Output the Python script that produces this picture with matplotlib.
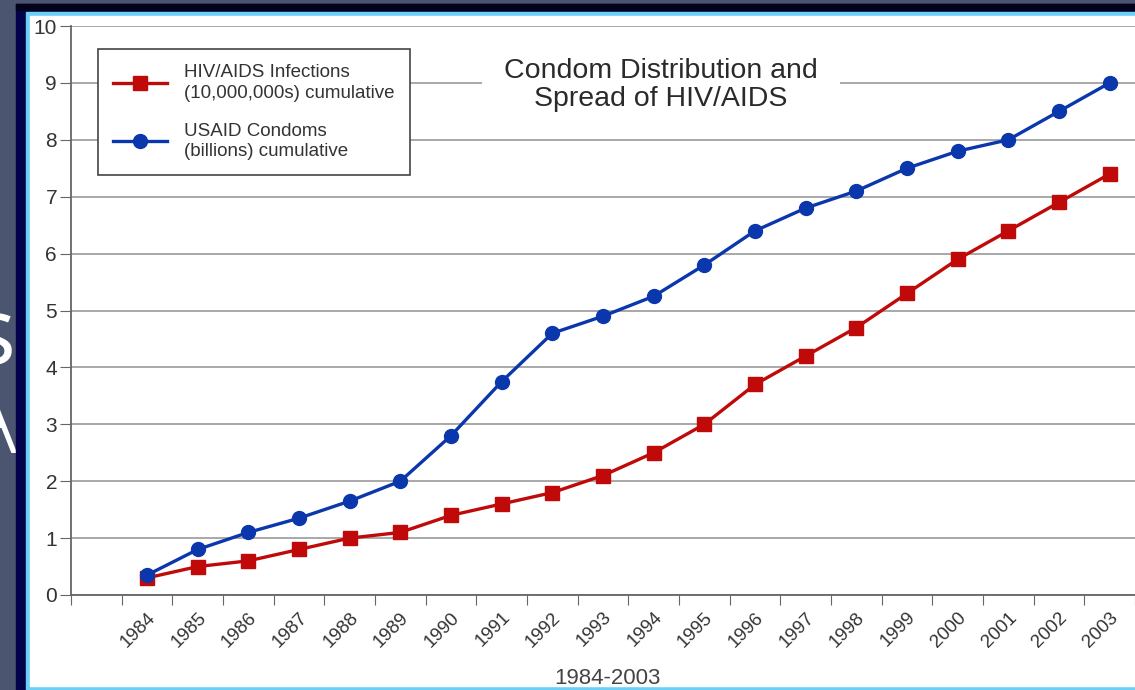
import matplotlib
matplotlib.use("Agg")
import matplotlib.pyplot as plt
from matplotlib.patches import Rectangle
from matplotlib.lines import Line2D

plt.rcParams['font.family'] = ['Liberation Sans', 'DejaVu Sans']

# data
years = ['1984', '1985', '1986', '1987', '1988', '1989', '1990', '1991', '1992', '1993',
         '1994', '1995', '1996', '1997', '1998', '1999', '2000', '2001', '2002', '2003']
hiv = [0.3, 0.5, 0.6, 0.8, 1.0, 1.1, 1.4, 1.6, 1.8, 2.1,
       2.5, 3.0, 3.7, 4.2, 4.7, 5.3, 5.9, 6.4, 6.9, 7.4]
condoms = [0.35, 0.8, 1.1, 1.35, 1.65, 2.0, 2.8, 3.75, 4.6, 4.9,
           5.25, 5.8, 6.4, 6.8, 7.1, 7.5, 7.8, 8.0, 8.5, 9.0]
hiv_label = 'HIV/AIDS Infections\n(10,000,000s) cumulative'
condom_label = 'USAID Condoms\n(billions) cumulative'
title = 'Condom Distribution and\nSpread of HIV/AIDS'
xlabel = '1984-2003'

W, H = 1135, 690
red = '#c00a0a'
blue = '#0b37ad'
txt = '#333333'


def px(x, y):
    # pixel (top-left origin) -> figure fraction
    return x / W, 1 - y / H


def main():
    fig = plt.figure(figsize=(W / 100, H / 100), dpi=100, facecolor='#4b5570')

    # slide frame
    def rect(x0, y0, x1, y1, color, z):
        fx, fy = px(x0, y1)
        fig.patches.append(Rectangle((fx, fy), (x1 - x0) / W, (y1 - y0) / H,
                                     transform=fig.transFigure, color=color,
                                     zorder=z))
    # slide text peeking out behind the chart
    fig.text(px(15, 0)[0], px(0, 364)[1], 's', color='white', fontsize=68,
             ha='right', va='baseline', zorder=0, family='Open Sans')
    fig.text(px(17, 0)[0], px(0, 453)[1], 'A', color='white', fontsize=72,
             ha='right', va='baseline', zorder=0, family='Open Sans',
             fontweight='light')
    rect(16, 4, W, H, '#02034a', 1)
    rect(16, 4, W, 10, '#02031a', 1)
    rect(26, 12, W, H, '#6ccff6', 2)
    rect(30, 16, W, 686, 'white', 3)

    ax = fig.add_axes([71 / W, (H - 595) / H, (W - 71) / W, (595 - 26) / H])
    ax.set_facecolor('none')
    ax.set_zorder(5)

    x = list(range(len(years)))
    ax.plot(x, hiv, color=red, lw=2.4, marker='s', ms=10, zorder=4)
    ax.plot(x, condoms, color=blue, lw=2.4, marker='o', ms=10, zorder=5)

    ax.set_xlim(-1.5, len(years) - 0.5)
    ax.set_ylim(0, 10)
    ax.set_yticks(range(11))
    ax.grid(axis='y', color='#999999', lw=1.2, zorder=0)
    ax.set_axisbelow(True)
    for s in ['top', 'right']:
        ax.spines[s].set_visible(False)
    for s in ['left', 'bottom']:
        ax.spines[s].set_color('#666666')
        ax.spines[s].set_linewidth(1.3)
    ax.tick_params(axis='y', length=8, color='#666666', labelsize=15,
                   labelcolor=txt, pad=2)

    # year labels between boundary ticks
    ax.set_xticks([i - 0.5 for i in range(-1, len(years) + 1)])
    ax.set_xticklabels([])
    ax.tick_params(axis='x', which='major', length=7, color='#666666')
    ax.set_xticks(x, minor=True)
    ax.set_xticklabels(years, minor=True, rotation=45, ha='right',
                       rotation_mode='anchor', fontsize=13.5, color=txt)
    ax.tick_params(axis='x', which='minor', length=0, pad=10)

    fig.text(px(607, 0)[0], px(0, 678)[1], xlabel, ha='center', va='center',
             fontsize=16, color='#444444', zorder=6)

    fig.text(px(661, 0)[0], px(0, 85)[1], title, ha='center', va='center',
             fontsize=20.5, color='#2a2a2a', linespacing=1.12, zorder=10,
             bbox=dict(facecolor='white', edgecolor='none', pad=16))

    handles = [Line2D([], [], color=red, lw=2.4, marker='s', ms=10),
               Line2D([], [], color=blue, lw=2.4, marker='o', ms=10)]
    leg = ax.legend(handles, [hiv_label, condom_label], loc='upper left',
                    bbox_to_anchor=px(98, 49), bbox_transform=fig.transFigure,
                    fontsize=13.5, frameon=True, fancybox=False,
                    edgecolor='#444444', framealpha=1, handlelength=2.9,
                    labelspacing=1.1, borderpad=0.8, handletextpad=0.9,
                    borderaxespad=0)
    leg.get_frame().set_linewidth(1.2)
    for t in leg.get_texts():
        t.set_color(txt)
        t.set_linespacing(1.3)

    plt.savefig('out.png', dpi=100, facecolor=fig.get_facecolor())


if __name__ == "__main__":
    main()
